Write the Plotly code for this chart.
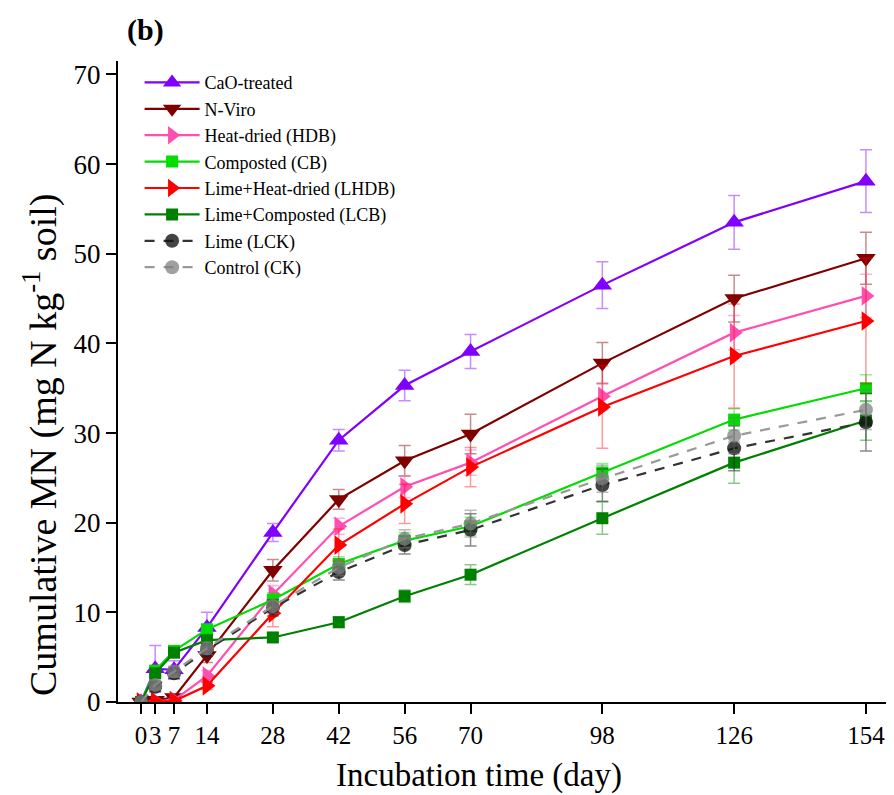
import plotly.graph_objects as go

days = [0, 3, 7, 14, 28, 42, 56, 70, 98, 126, 154]
tick_vals = [0, 3, 7, 14, 28, 42, 56, 70, 98, 126, 154]
tick_text = ["0", "3", "7", "14", "28", "42", "56", "70", "98", "126", "154"]

cao = [0, 3.7, 3.6, 8.3, 18.9, 29.2, 35.3, 39.1, 46.5, 53.5, 58.1]
cao_err = [0.1, 2.6, 1.0, 1.7, 1.0, 1.2, 1.7, 1.9, 2.6, 3.0, 3.5]

nviro = [0, 0.2, 0.5, 5.2, 14.7, 22.6, 26.9, 29.9, 37.8, 45.0, 49.5]
nviro_err = [0.1, 0.2, 0.3, 0.8, 1.2, 1.1, 1.7, 2.2, 2.3, 2.6, 2.9]

hdb = [0, 0.1, 0.2, 2.9, 12.0, 19.6, 24.0, 26.7, 34.1, 41.2, 45.3]
hdb_err = [0.1, 0.1, 0.2, 0.6, 1.0, 0.9, 1.2, 1.4, 1.5, 1.9, 2.4]

cb = [0, 3.5, 5.7, 8.1, 11.4, 15.4, 18.0, 19.6, 25.6, 31.5, 35.0]
cb_err = [0.1, 0.5, 0.5, 0.6, 0.8, 0.8, 0.9, 1.0, 1.0, 1.2, 1.5]

lhdb = [0, 0.05, 0.1, 1.8, 9.9, 17.5, 22.1, 26.2, 32.9, 38.6, 42.5]
lhdb_err = [0.1, 0.1, 0.1, 0.4, 1.5, 1.8, 2.2, 2.2, 4.6, 5.8, 7.0]

lcb = [0, 3.2, 5.5, 6.9, 7.2, 8.9, 11.8, 14.2, 20.5, 26.7, 31.4]
lcb_err = [0.1, 0.4, 0.5, 0.5, 0.5, 0.6, 0.7, 1.1, 1.8, 2.3, 2.2]

lck = [0, 1.7, 3.2, 5.8, 10.5, 14.5, 17.5, 19.2, 24.2, 28.3, 31.2]
lck_err = [0.1, 0.5, 0.6, 0.7, 0.9, 0.9, 1.0, 1.8, 1.8, 2.5, 3.2]

ck = [0, 1.9, 3.4, 6.0, 10.7, 15.0, 18.2, 19.9, 24.9, 29.7, 32.6]
ck_err = [0.1, 0.5, 0.6, 0.7, 0.8, 0.9, 1.0, 1.5, 1.5, 2.0, 2.2]

series = [
    ("CaO-treated", cao, cao_err, "#8000FF", "rgba(128,0,255,0.45)", "triangle-up", 17, "solid", "#8000FF"),
    ("N-Viro", nviro, nviro_err, "#800000", "rgba(128,0,0,0.45)", "triangle-down", 17, "solid", "#800000"),
    ("Heat-dried (HDB)", hdb, hdb_err, "#FF4FB0", "rgba(255,79,176,0.45)", "triangle-right", 17, "solid", "#FF4FB0"),
    ("Composted (CB)", cb, cb_err, "#00DD00", "rgba(0,221,0,0.45)", "square", 12, "solid", "#00DD00"),
    ("Lime+Heat-dried (LHDB)", lhdb, lhdb_err, "#FF0000", "rgba(255,0,0,0.4)", "triangle-right", 17, "solid", "#FF0000"),
    ("Lime+Composted (LCB)", lcb, lcb_err, "#008000", "rgba(0,128,0,0.45)", "square", 12, "solid", "#008000"),
    ("Lime (LCK)", lck, lck_err, "#333333", "rgba(40,40,40,0.55)", "circle", 14, "10px,9px", "rgba(20,20,20,0.8)"),
    ("Control (CK)", ck, ck_err, "#999999", "rgba(120,120,120,0.5)", "circle", 14, "10px,9px", "rgba(128,128,128,0.75)"),
]

fig = go.Figure()
for name, vals, errs, col, ecol, sym, size, dash, mcol in series:
    fig.add_trace(go.Scatter(
        x=days, y=vals, name=name, mode="lines+markers",
        line=dict(color=col, width=2.2, dash=dash),
        marker=dict(symbol=sym, size=size, color=mcol, line=dict(width=0)),
        error_y=dict(type="data", array=errs, visible=True, color=ecol, thickness=1.5, width=6),
    ))

font_family = "Liberation Serif"
W, H = 886, 787
L, R, T, B = 110, 5, 53, 93
fig.update_layout(
    width=W, height=H,
    margin=dict(l=L, r=R, t=T, b=B),
    paper_bgcolor="white", plot_bgcolor="white",
    font=dict(family=font_family, color="black"),
    title=dict(text="<b>(b)</b>", x=119/W, xanchor="left", y=1-21/H, yanchor="middle",
               font=dict(family=font_family, size=30, color="black")),
    showlegend=True,
    legend=dict(x=0.028, y=0.995, xanchor="left", yanchor="top", bgcolor="rgba(0,0,0,0)",
                font=dict(family=font_family, size=18, color="black"),
                itemwidth=55, tracegroupgap=0),
    xaxis=dict(range=[-4.9, 158.9], tickvals=tick_vals, ticktext=tick_text, automargin=False,
               tickangle=0,
               showgrid=False, zeroline=False, showline=True, linecolor="black", linewidth=2,
               ticks="outside", ticklen=10, tickwidth=2, tickcolor="black",
               tickfont=dict(family=font_family, size=25, color="black")),
    yaxis=dict(range=[0, 71.5], tickvals=[0, 10, 20, 30, 40, 50, 60, 70], automargin=False,
               showgrid=False, zeroline=False, showline=True, linecolor="black", linewidth=2,
               ticks="outside", ticklen=10, tickwidth=2, tickcolor="black",
               tickfont=dict(family=font_family, size=27, color="black")),
    annotations=[
        dict(text="Incubation time (day)", xref="paper", yref="paper",
             x=(471 - L) / (W - L - R), y=-(767 - (H - B)) / (H - T - B),
             xanchor="center", yanchor="middle", showarrow=False,
             font=dict(family=font_family, size=33, color="black")),
        dict(text="Cumulative MN (mg N kg<sup>-1</sup> soil)", xref="paper", yref="paper",
             x=-(L - 32) / (W - L - R), y=((H - B) - 437) / (H - T - B),
             xanchor="center", yanchor="middle", textangle=-90, showarrow=False,
             font=dict(family=font_family, size=38, color="black")),
    ],
)

fig.write_html("out.html")
